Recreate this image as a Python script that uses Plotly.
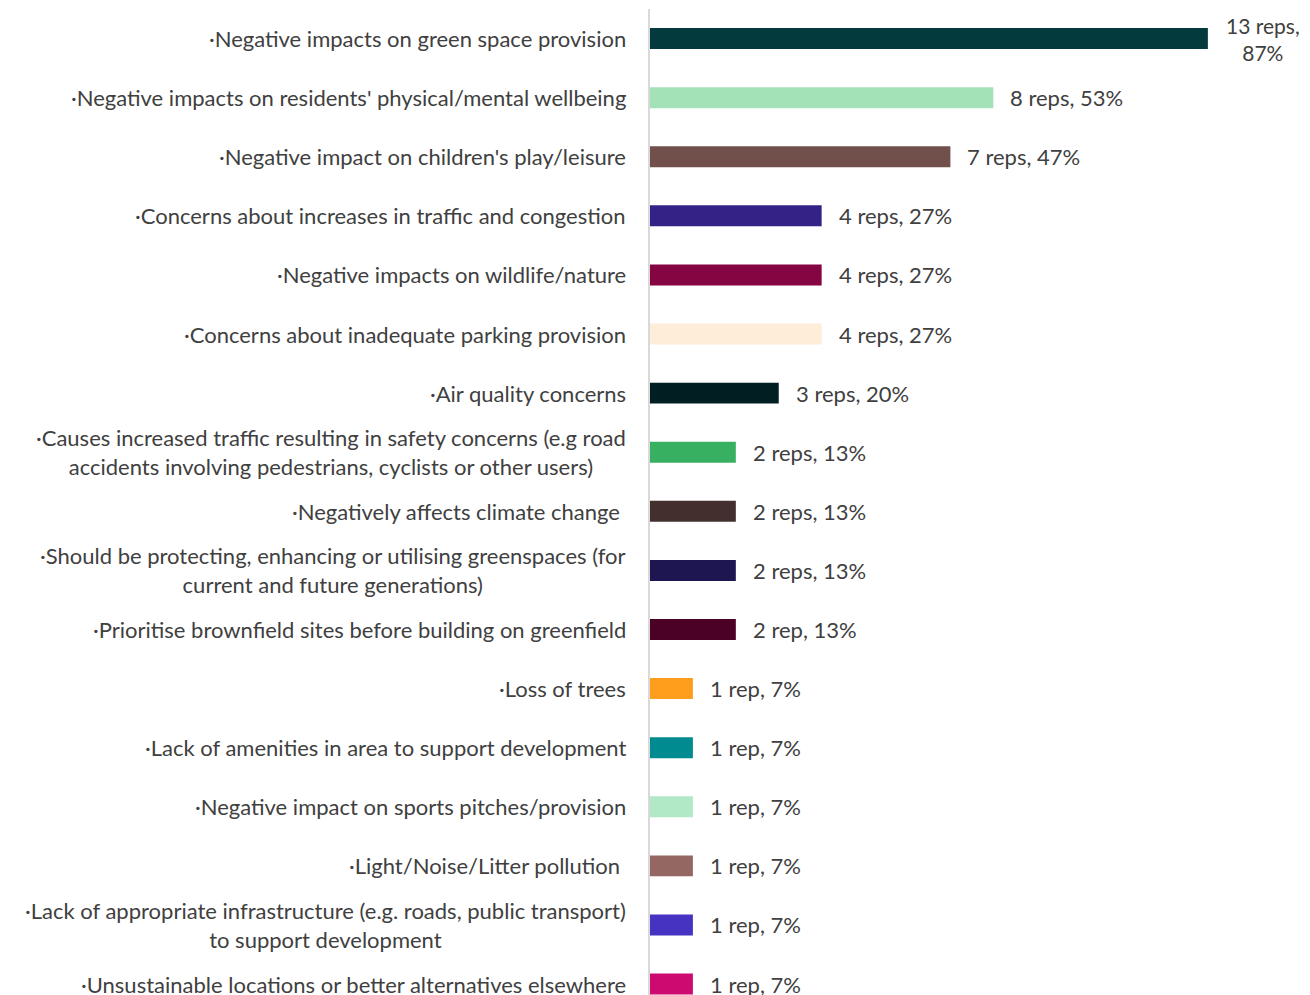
import plotly.graph_objects as go

categories = [
    "·Negative impacts on green space provision",
    "·Negative impacts on residents' physical/mental wellbeing",
    "·Negative impact on children's play/leisure",
    "·Concerns about increases in traffic and congestion",
    "·Negative impacts on wildlife/nature",
    "·Concerns about inadequate parking provision",
    "·Air quality concerns",
    "·Causes increased traffic resulting in safety concerns (e.g road<br>accidents involving pedestrians, cyclists or other users)",
    "·Negatively affects climate change\u00a0",
    "·Should be protecting, enhancing or utilising greenspaces (for<br>current and future generations)",
    "·Prioritise brownfield sites before building on greenfield",
    "·Loss of trees",
    "·Lack of amenities in area to support development",
    "·Negative impact on sports pitches/provision",
    "·Light/Noise/Litter pollution\u00a0",
    "·Lack of appropriate infrastructure (e.g. roads, public transport)<br>to support development",
    "·Unsustainable locations or better alternatives elsewhere",
]
reps = [13, 8, 7, 4, 4, 4, 3, 2, 2, 2, 2, 1, 1, 1, 1, 1, 1]
value_labels = [
    "13 reps,<br>87%", "8 reps, 53%", "7 reps, 47%", "4 reps, 27%", "4 reps, 27%",
    "4 reps, 27%", "3 reps, 20%", "2 reps, 13%", "2 reps, 13%", "2 reps, 13%",
    "2 rep, 13%", "1 rep, 7%", "1 rep, 7%", "1 rep, 7%", "1 rep, 7%",
    "1 rep, 7%", "1 rep, 7%",
]
colors = [
    "#023A3D", "#A3E1B6", "#714F4B", "#342287", "#850442", "#FDEDD9",
    "#011F22", "#38B061", "#43302E", "#1E1650", "#4A0125", "#FE9E1C",
    "#008B90", "#B1E8C6", "#956763", "#4733C2", "#CD0A70",
]

FONT = "Lato"
TXT = "#404040"
FS = 22

fig = go.Figure()
fig.add_trace(go.Bar(
    x=reps, y=categories, orientation="h",
    marker=dict(color=colors, line=dict(width=0)),
    width=0.355, showlegend=False, hoverinfo="skip",
))

annotations = []
for cat, v, lab in zip(categories, reps, value_labels):
    annotations.append(dict(
        x=0, xref="paper", y=cat, yref="y", text=cat, showarrow=False,
        xanchor="right", yanchor="middle", align="center", xshift=-22,
        font=dict(family=FONT, size=FS, color=TXT),
    ))
    multi = "<br>" in lab
    annotations.append(dict(
        x=v, xref="x", y=cat, yref="y", text=lab, showarrow=False,
        xanchor="left", yanchor="middle", align="center",
        xshift=16 if multi else 15,
        font=dict(family=FONT, size=FS - 1 if multi else FS, color=TXT),
    ))

# page body has an 8px default margin, so the figure is offset by 8px
fig.update_layout(
    width=1302, height=987,
    margin=dict(l=642, r=0, t=1, b=0, pad=0),
    paper_bgcolor="white", plot_bgcolor="white",
    font=dict(family=FONT, size=FS, color=TXT),
    annotations=annotations,
    xaxis=dict(range=[0, 15.38], showgrid=False, zeroline=False,
               showticklabels=False, showline=False, fixedrange=True),
    yaxis=dict(type="category", categoryorder="array", categoryarray=categories,
               range=[16.185, -0.5], showgrid=False, zeroline=False,
               showticklabels=False, showline=True, linecolor="#D9D9D9",
               linewidth=2, ticks="", fixedrange=True),
)

fig.write_html("out.html")
